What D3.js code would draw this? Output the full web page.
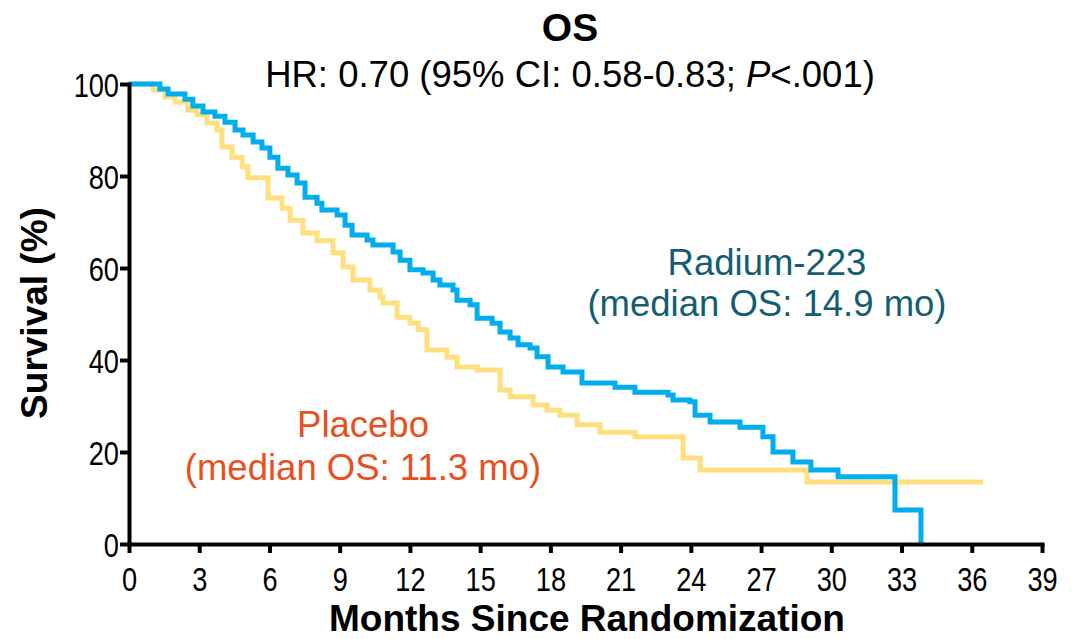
<!DOCTYPE html>
<html>
<head>
<meta charset="utf-8">
<script src="https://cdn.jsdelivr.net/npm/d3@7"></script>
<style>
  html, body { margin: 0; padding: 0; background: #fff; }
  svg text { font-family: "Liberation Sans", Arial, sans-serif; }
</style>
</head>
<body>
<svg id="chart" width="1089" height="639"></svg>
<script>
// ---- data ----
const radiumTimes = [0, 1.32, 1.67, 2.39, 2.73, 3.16, 3.67, 4.10, 4.53, 4.87, 5.30, 5.68, 6.02, 6.36, 6.79, 7.18, 7.52, 8.03, 8.24, 8.89, 9.23, 9.53, 10.17, 10.42, 11.28, 11.58, 12.00, 12.56, 12.99, 13.28, 13.84, 14.01, 14.57, 14.87, 15.51, 15.85, 16.28, 16.62, 17.13, 17.43, 17.90, 18.54, 19.35, 20.76, 21.61, 23.02, 23.24, 23.96, 24.18, 24.82, 26.10, 27.08, 27.51, 28.36, 29.13, 30.29, 32.72, 33.83];
const radiumSurv  = [100, 98.9, 97.8, 96.7, 95.2, 93.9, 93.0, 91.7, 90.0, 88.9, 87.4, 86.1, 84.1, 81.7, 80.2, 78.5, 75.4, 74.1, 72.6, 71.5, 69.3, 67.2, 66.1, 65.0, 63.5, 61.7, 59.6, 58.9, 57.4, 56.3, 55.2, 53.0, 52.0, 49.1, 48.0, 46.1, 44.8, 43.3, 42.6, 40.7, 38.5, 37.4, 35.0, 34.1, 33.0, 32.4, 31.3, 30.9, 28.0, 26.5, 25.4, 23.3, 20.0, 17.8, 16.1, 14.6, 7.4, 0];
const placeboTimes = [0, 1.03, 1.54, 1.97, 2.52, 2.90, 3.33, 3.76, 3.97, 4.40, 4.83, 5.08, 5.94, 6.54, 6.88, 7.43, 8.03, 8.71, 9.14, 9.57, 10.29, 10.72, 10.85, 11.45, 12.00, 12.35, 12.73, 13.58, 14.01, 14.87, 15.85, 16.28, 17.26, 17.86, 18.41, 19.14, 20.12, 21.61, 23.67, 24.40, 28.96, 36.48];
const placeboSurv  = [100, 98.7, 97.2, 96.1, 94.3, 93.3, 91.5, 90.0, 86.3, 84.1, 82.0, 79.6, 75.2, 73.0, 70.4, 67.6, 66.0, 63.3, 60.2, 57.4, 55.2, 53.7, 52.4, 49.3, 48.0, 46.6, 42.2, 40.6, 38.5, 37.8, 33.5, 32.0, 30.2, 29.1, 28.0, 25.9, 24.3, 23.3, 18.7, 16.1, 13.5, 13.5];
const xTicks = [0, 3, 6, 9, 12, 15, 18, 21, 24, 27, 30, 33, 36, 39];
const yTicks = [0, 20, 40, 60, 80, 100];
const titleText = "OS";
const xTitle = "Months Since Randomization";
const yTitle = "Survival (%)";
const radiumLabel = ["Radium-223", "(median OS: 14.9 mo)"];
const placeboLabel = ["Placebo", "(median OS: 11.3 mo)"];

// ---- layout ----
const svg = d3.select("#chart");
const mLeft = 129, mRight = 1042, mTop = 84, mBottom = 544;
const x = d3.scaleLinear().domain([0, 39]).range([mLeft, mRight]);
const y = d3.scaleLinear().domain([0, 100]).range([mBottom, mTop]);

const line = d3.line()
  .x(d => x(d[0]))
  .y(d => y(d[1]))
  .curve(d3.curveStepAfter);

const placeboData = placeboTimes.map((t, i) => [t, placeboSurv[i]]);
const radiumData = radiumTimes.map((t, i) => [t, radiumSurv[i]]);

svg.append("path").datum(placeboData)
  .attr("d", line).attr("fill", "none")
  .attr("stroke", "#FFDF7E").attr("stroke-width", 5);
svg.append("path").datum(radiumData)
  .attr("d", line).attr("fill", "none")
  .attr("stroke", "#00AEEF").attr("stroke-width", 5);

// axes
const xAxis = d3.axisBottom(x).tickValues(xTicks).tickSize(9).tickSizeOuter(0);
const yAxis = d3.axisLeft(y).tickValues(yTicks).tickSize(9).tickSizeOuter(0);

const gx = svg.append("g").attr("transform", `translate(0,${mBottom})`).call(xAxis);
const gy = svg.append("g").attr("transform", `translate(${mLeft},0)`).call(yAxis);

[gx, gy].forEach(g => {
  g.select(".domain").attr("stroke", "#000").attr("stroke-width", 4).attr("stroke-linecap", "square");
  g.selectAll(".tick line").attr("stroke", "#000").attr("stroke-width", 4);
  g.selectAll(".tick text").attr("fill", "#000").attr("font-size", 34)
    .attr("font-family", "'Liberation Sans', Arial, sans-serif");
});
// condensed tick numerals, as in the reference
gx.selectAll(".tick text").attr("x", 0).attr("y", 0).attr("dy", 0)
  .attr("transform", "translate(0,47) scale(0.8,1)");
gy.selectAll(".tick text").attr("x", 0).attr("y", 0).attr("dy", "0.36em")
  .attr("transform", "translate(-10,0) scale(0.8,1)");

// titles
svg.append("text").attr("x", 570).attr("y", 41).attr("text-anchor", "middle")
  .attr("font-size", 39).attr("font-weight", "bold").text(titleText);

const sub = svg.append("text").attr("x", 570).attr("y", 87).attr("text-anchor", "middle")
  .attr("font-size", 36.5);
sub.append("tspan").text("HR: 0.70 (95% CI: 0.58-0.83; ");
sub.append("tspan").attr("font-style", "italic").text("P");
sub.append("tspan").text("<.001)");

svg.append("text").attr("x", 587).attr("y", 631).attr("text-anchor", "middle")
  .attr("font-size", 37).attr("font-weight", "bold").text(xTitle);

svg.append("text").attr("transform", "translate(47,313) rotate(-90)").attr("text-anchor", "middle")
  .attr("font-size", 37).attr("font-weight", "bold").text(yTitle);

// annotations
const radiumText = svg.append("text").attr("text-anchor", "middle").attr("fill", "#135E72").attr("font-size", 36.5);
radiumText.append("tspan").attr("x", 767).attr("y", 275).text(radiumLabel[0]);
radiumText.append("tspan").attr("x", 767).attr("y", 316).text(radiumLabel[1]);

const placeboText = svg.append("text").attr("text-anchor", "middle").attr("fill", "#E8501E").attr("font-size", 36.5);
placeboText.append("tspan").attr("x", 363).attr("y", 437).text(placeboLabel[0]);
placeboText.append("tspan").attr("x", 363).attr("y", 480).text(placeboLabel[1]);
</script>
</body>
</html>
